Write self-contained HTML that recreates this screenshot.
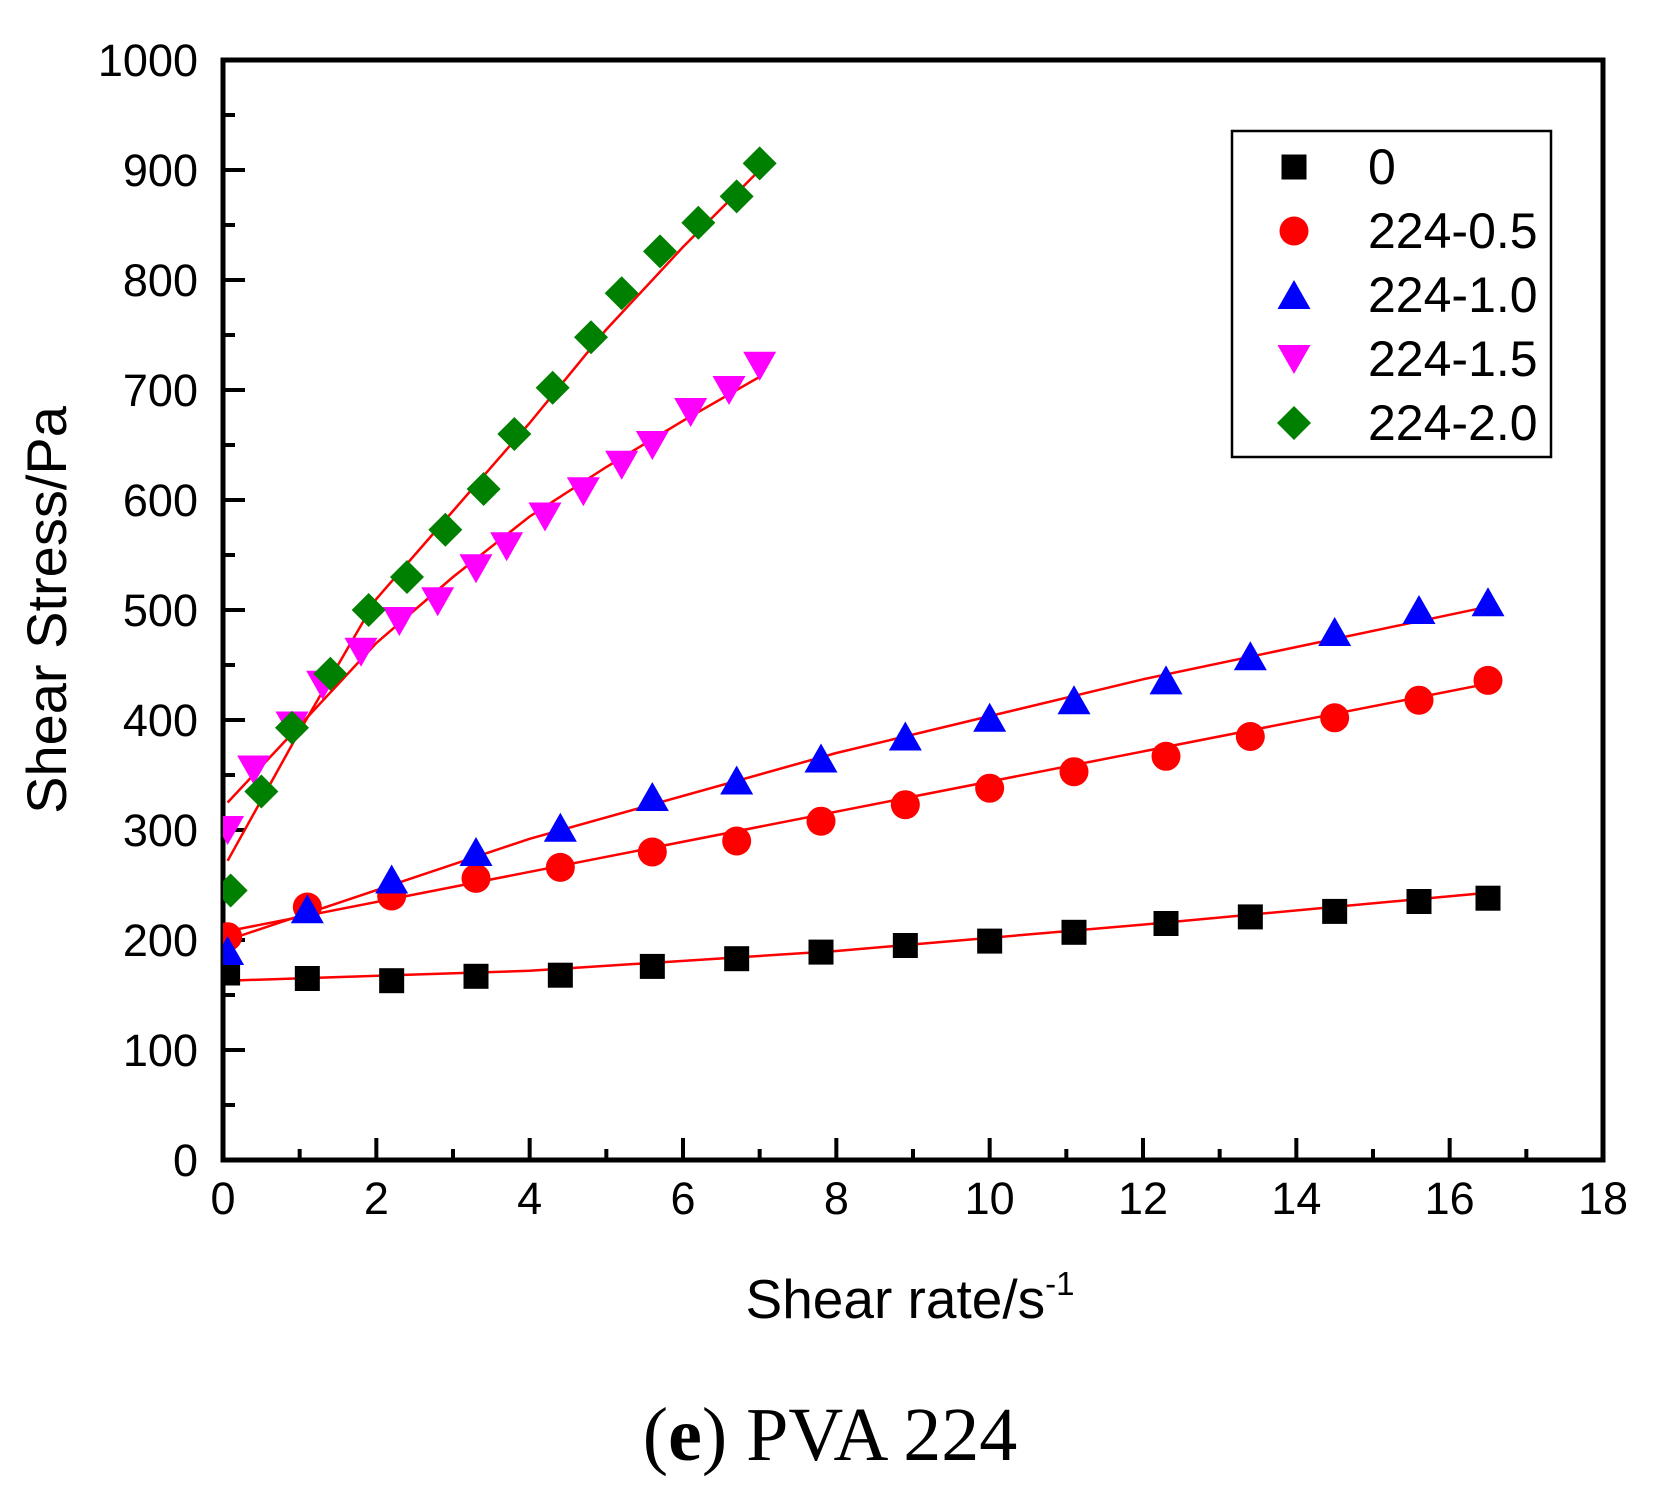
<!DOCTYPE html>
<html><head><meta charset="utf-8"><style>
body{margin:0;background:#fff}
svg{display:block}
text{font-family:"Liberation Sans",sans-serif;fill:#000}
</style></head><body>
<svg id="chart" width="1656" height="1493" xmlns="http://www.w3.org/2000/svg">
<defs><clipPath id="plotclip"><rect x="223" y="60" width="1380" height="1100"/></clipPath></defs>
<g id="axes"></g>
<g id="fits" clip-path="url(#plotclip)"></g>
<g id="marks" clip-path="url(#plotclip)"></g>
<g id="legend"></g>
<text x="51" y="610" font-size="56" text-anchor="middle" transform="rotate(-90 51 610)" dominant-baseline="middle">Shear Stress/Pa</text>
<text x="910" y="1318" font-size="55" text-anchor="middle">Shear rate/s<tspan font-size="33" dy="-23">-1</tspan></text>
<text x="830" y="1460" font-size="76" text-anchor="middle" style="font-family:'Liberation Serif',serif">(<tspan font-weight="bold">e</tspan>) PVA 224</text>
</svg>
<script>
const xTicks=[0,2,4,6,8,10,12,14,16,18];
const yTicks=[0,100,200,300,400,500,600,700,800,900,1000];
const seriesNames=["0","224-0.5","224-1.0","224-1.5","224-2.0"];
const xLong=[0.06,1.1,2.2,3.3,4.4,5.6,6.7,7.8,8.9,10,11.1,12.3,13.4,14.5,15.6,16.5];
const xShort15=[0.06,0.4,0.9,1.3,1.8,2.3,2.8,3.3,3.7,4.2,4.7,5.2,5.6,6.1,6.6,7.0];
const xShort20=[0.1,0.5,0.9,1.4,1.9,2.4,2.9,3.4,3.8,4.3,4.8,5.2,5.7,6.2,6.7,7.0];
const y0=[170,165,163,167,168,176,183,189,195,199,207,215,221,226,235,238];
const y05=[203,230,240,256,266,280,290,308,323,338,353,367,385,402,418,436];
const y10=[190,228,255,280,302,330,345,365,385,402,418,436,458,480,500,507];
const y15=[300,355,395,432,462,490,508,538,558,585,608,632,650,680,700,722];
const y20=[245,335,393,442,500,530,573,610,660,702,748,788,826,852,876,906];
const fitX0=[0.06,4,8,12,16.5];const fitY0=[163,172,190,214,243];
const fitX05=[0.06,16.5];const fitY05=[208,433];
const fitX10=[0.06,4,8,12,16.5];const fitY10=[200,292,370,437,503];
const fitX15=[0.06,1,2,3,4,5,6,7];const fitY15=[325,395,470,530,585,630,672,712];
const fitX20=[0.06,1,2,3,4,5,6,7];const fitY20=[272,390,510,590,670,755,830,900];

const NS="http://www.w3.org/2000/svg";
const X=v=>223+v*(1380/18);
const Y=v=>1160-v*1.1;
function mk(tag,attrs,parent){const e=document.createElementNS(NS,tag);for(const k in attrs)e.setAttribute(k,attrs[k]);parent.appendChild(e);return e;}
const axes=document.getElementById('axes');
let frame=mk('rect',{x:223,y:60,width:1380,height:1100,fill:'none',stroke:'#000','stroke-width':5},axes);


xTicks.forEach((t,i)=>{
  let l=mk('line',{x1:X(t),x2:X(t),y1:1160,y2:1138,stroke:'#000','stroke-width':4},axes);
  
  
  if(i<xTicks.length-1){let m=mk('line',{x1:X(t+1),x2:X(t+1),y1:1160,y2:1149,stroke:'#000','stroke-width':4},axes);
  
  }
  let tx=mk('text',{x:X(t),y:1214,'font-size':45,'text-anchor':'middle'},axes);tx.textContent=t;
  
  
});
yTicks.forEach((t,i)=>{
  let l=mk('line',{x1:223,x2:245,y1:Y(t),y2:Y(t),stroke:'#000','stroke-width':4},axes);
  
  
  if(i<yTicks.length-1){let m=mk('line',{x1:223,x2:235,y1:Y(t+50),y2:Y(t+50),stroke:'#000','stroke-width':4},axes);
  
  }
  let tx=mk('text',{x:198,y:Y(t)+16,'font-size':45,'text-anchor':'end'},axes);tx.textContent=t;
  
  
});
const fits=document.getElementById('fits');
[[fitX0,fitY0],[fitX05,fitY05],[fitX10,fitY10],[fitX15,fitY15],[fitX20,fitY20]].forEach((f,i)=>{
  let p=mk('polyline',{points:f[0].map((x,j)=>X(x)+','+Y(f[1][j])).join(' '),fill:'none',stroke:'#f00','stroke-width':2.5},fits);
  
  
});
const colors=['#000','#f00','#00f','#f0f','#008000'];
const shapes=['square','circle','up','down','diamond'];
function marker(parent,shape,cx,cy,c){
  if(shape==='square')return mk('rect',{x:cx-12.5,y:cy-12.5,width:25,height:25,fill:c},parent);
  if(shape==='circle')return mk('circle',{cx:cx,cy:cy,r:14.5,fill:c},parent);
  if(shape==='up')return mk('polygon',{points:`${cx},${cy-15} ${cx+16.5},${cy+14} ${cx-16.5},${cy+14}`,fill:c},parent);
  if(shape==='down')return mk('polygon',{points:`${cx},${cy+15} ${cx+16.5},${cy-14} ${cx-16.5},${cy-14}`,fill:c},parent);
  return mk('polygon',{points:`${cx},${cy-17} ${cx+17},${cy} ${cx},${cy+17} ${cx-17},${cy}`,fill:c},parent);
}
const marks=document.getElementById('marks');
[[xLong,y0],[xLong,y05],[xLong,y10],[xShort15,y15],[xShort20,y20]].forEach((s,i)=>{
  s[0].forEach((x,j)=>{
    let m=marker(marks,shapes[i],X(x),Y(s[1][j]),colors[i]);
    
    
  });
});
const leg=document.getElementById('legend');
let box=mk('rect',{x:1232,y:131,width:319,height:326,fill:'#fff',stroke:'#000','stroke-width':2.5},leg);


seriesNames.forEach((n,i)=>{
  const cy=167+i*64;
  let m=marker(leg,shapes[i],1294,cy,colors[i]);
  
  
  let t=mk('text',{x:1368,y:cy+17,'font-size':50},leg);t.textContent=n;
  
  
});
</script>
</body></html>
